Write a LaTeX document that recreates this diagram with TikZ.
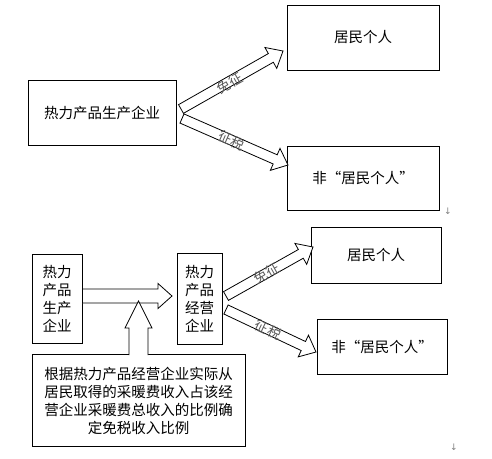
\documentclass[tikz,border=0pt]{standalone}
\usepackage{fontspec}
\setmainfont{Noto Sans CJK SC}[RawFeature=+fwid]
\newfontfamily\symfont{DejaVu Sans}
\usetikzlibrary{calc}
\tikzset{
  box/.style={draw=black, line width=0.9pt, fill=white, inner sep=0pt, align=center,
    font=\fontsize{14.5}{18}\selectfont},
  blockarrow/.style={draw=black, line width=0.8pt, fill=white, line join=miter},
  arrowlabel/.style={sloped, pos=0.47, inner sep=0pt, text=black!65,
    font=\fontsize{13.5}{16}\selectfont},
  retmark/.style={inner sep=0pt, text=black!50, font=\symfont\fontsize{9}{10}\selectfont}
}
% #1 tail, #2 tip, #3 body half width, #4 head half width, #5 head length
\newcommand\blkarrow[5]{%
  \coordinate (hb) at ($(#2)!#5!(#1)$);
  \draw[blockarrow]
    ($(#1)!#3!90:(#2)$) -- ($(hb)!#3!-90:(#1)$) -- ($(hb)!#4!-90:(#1)$) -- (#2)
    -- ($(hb)!#4!90:(#1)$) -- ($(hb)!#3!90:(#1)$) -- ($(#1)!#3!-90:(#2)$) -- cycle;
}
\begin{document}
\begin{tikzpicture}[x=1pt, y=-1pt]
\useasboundingbox (0,0) rectangle (492,458);

% ---------- top part ----------
\node[box, minimum width=148pt, minimum height=65pt] (A) at (102,112.5) {热力产品生产企业};
\node[box, minimum width=152pt, minimum height=65pt] (B) at (363,37.5) {居民个人};
\node[box, minimum width=152pt, minimum height=64pt] (C) at (363,178) {非“居民个人”};

\coordinate (t1a) at (181,109);
\coordinate (t1b) at (283,51);
\coordinate (t2a) at (182,118.5);
\coordinate (t2b) at (288,165);
\blkarrow{t1a}{t1b}{5pt}{12pt}{14pt}
\blkarrow{t2a}{t2b}{5pt}{12pt}{14pt}
\path (t1a) -- node[arrowlabel, yshift=-2pt] (l1) {免征} (t1b);
\path (t2a) -- node[arrowlabel] (l2) {征税} (t2b);

\node[retmark] (r1) at (448,211) {↓};

% ---------- bottom part ----------
\node[box, minimum width=50pt, minimum height=89pt] (D) at (57,298.5) {热力\\产品\\生产\\企业};
\node[box, minimum width=45pt, minimum height=91pt] (E) at (199.5,298.5) {热力\\产品\\经营\\企业};
\node[box, minimum width=130pt, minimum height=56pt] (F) at (376,255) {居民个人};
\node[box, minimum width=130pt, minimum height=55pt] (G) at (382,346.5) {非“居民个人”};
\node[box, minimum width=213pt, minimum height=92pt] (H) at (138.5,400.6)
  {根据热力产品经营企业实际从\\居民取得的采暖费收入占该经\\营企业采暖费总收入的比例确\\定免税收入比例};

% horizontal arrow D -> E
\coordinate (hta) at (D.east |- 0,296);
\coordinate (htb) at (172,296);
\blkarrow{hta}{htb}{7pt}{12.5pt}{14pt}

% up arrow from H (open at its foot)
\coordinate (uta) at (H.north);
\coordinate (utb) at (138.5,301);
\draw[blockarrow] ([xshift=-9.5pt, yshift=-1pt]uta) -- (129,328) -- (125,328) -- (utb)
  -- (152,328) -- (148,328) -- ([xshift=9.5pt, yshift=-1pt]uta);

% arrows from E
\coordinate (b1a) at (226,296);
\coordinate (b1b) at (313,247);
\coordinate (b2a) at (226,309.5);
\coordinate (b2b) at (316,352);
\blkarrow{b1a}{b1b}{5pt}{12pt}{14pt}
\blkarrow{b2a}{b2b}{5pt}{12pt}{14pt}
\path (b1a) -- node[arrowlabel] (l3) {免征} (b1b);
\path (b2a) -- node[arrowlabel] (l4) {征税} (b2b);

\node[retmark] (r2) at (454,447) {↓};
\end{tikzpicture}
\end{document}
